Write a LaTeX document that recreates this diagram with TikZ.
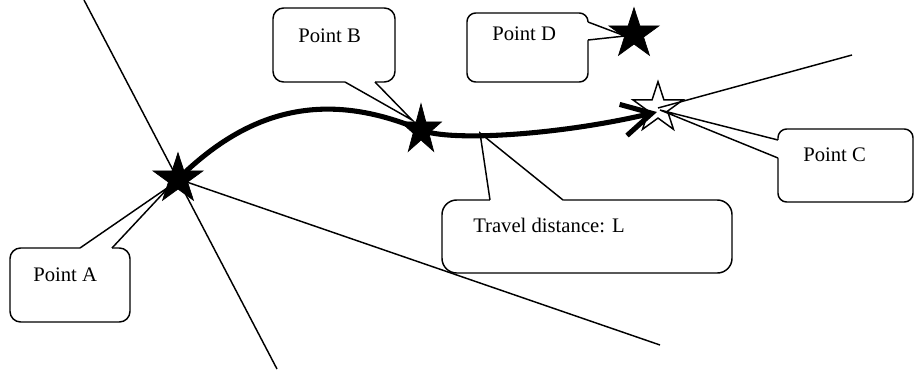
\documentclass[tikz,border=0pt]{standalone}
\usepackage{fontspec}
\setmainfont{Liberation Serif}
\usetikzlibrary{shapes.geometric,arrows.meta}
\begin{document}
\begin{tikzpicture}[x=0.75pt,y=-0.75pt,
  thinline/.style={line width=1.1pt},
  box/.style={draw, fill=white, line width=1.1pt, rounded corners=#1},
  box/.default=8pt,
  cover/.style={fill=white},
  ptr/.style={draw, line width=1.1pt, line join=miter},
  lbl/.style={anchor=base west, inner sep=0pt, font=\fontsize{15.5pt}{18pt}\selectfont},
  starshape/.style={star, star points=5, star point ratio=2.618, inner sep=0pt, minimum size=39.5pt},
  blackstar/.style={starshape, fill=black, draw=black, line width=0.5pt},
  openstar/.style={starshape, fill=white, draw=black, line width=1.1pt},
  travel/.style={line width=3.8pt, -{Straight Barb[length=22pt,width=24pt]}}
]
\useasboundingbox (0,0) rectangle (915,369);

% star centres
\coordinate (pA) at (178,179);
\coordinate (pB) at (421,130);
\coordinate (pD) at (634,34);
\coordinate (pC) at (658,108);
\coordinate (pCend) at (657,112);

% free ends of the long lines
\coordinate (l1a) at (84,0);
\coordinate (l1b) at (277,369);
\coordinate (l2b) at (660,345);
\coordinate (l3b) at (852,55);

% callout tips
\coordinate (tipA) at (170,186);
\coordinate (tipB) at (412,120);
\coordinate (tipD) at (625,36);
\coordinate (tipC) at (660,110);
\coordinate (tipT) at (480,133);

% open star C (behind its lines)
\node[openstar] (C) at (pC) {};

% long thin lines
\draw[thinline] (l1a) -- (l1b);
\draw[thinline] (pA) -- (l2b);
\draw[thinline] (C.center) -- (l3b);

% callout A
\draw[box] (10,248) rectangle (130,322);
\fill[cover] (80,252) -- (80,248) -- (tipA) -- (112,248) -- (112,252) -- cycle;
\draw[ptr] (80,248) -- (tipA) -- (112,248);
% callout B
\draw[box] (273,8) rectangle (395,82);
\fill[cover] (345,78) -- (345,82) -- (tipB) -- (375,82) -- (375,78) -- cycle;
\draw[ptr] (345,82) -- (tipB) -- (375,82);
% callout D
\draw[box=6.5pt] (467,13) rectangle (588,82);
\fill[cover] (584,22) -- (588,22) -- (tipD) -- (588,40) -- (584,40) -- cycle;
\draw[ptr] (588,22) -- (tipD) -- (588,40);
% callout C
\draw[box=6.5pt] (778,129) rectangle (913,202);
\fill[cover] (782,140) -- (778,140) -- (tipC) -- (778,158) -- (782,158) -- cycle;
\draw[ptr] (778,140) -- (tipC) -- (778,158);
% callout travel distance
\draw[box=11pt] (442,200) rectangle (732,273);
\fill[cover] (490,204) -- (490,200) -- (tipT) -- (563,200) -- (563,204) -- cycle;
\draw[ptr] (490,200) -- (tipT) -- (563,200);

% labels
\node[lbl] (tA) at (33,281) {Point A};
\node[lbl] (tB) at (298,42) {Point B};
\node[lbl] (tD) at (492,40) {Point D};
\node[lbl] (tC) at (803,161) {Point C};
\node[lbl] (tT) at (473,232) {Travel distance: L};

% travel path
\draw[travel] (pA) .. controls (240,118) and (315,85) .. (pB) .. controls (450,142) and (560,135) .. (pCend);

% black stars
\node[blackstar] (A) at (pA) {};
\begin{scope}[shift={(pB)}, xscale=0.82]
  \node[blackstar, transform shape] (B) at (0,0) {};
\end{scope}
\node[blackstar] (D) at (pD) {};
\end{tikzpicture}
\end{document}
